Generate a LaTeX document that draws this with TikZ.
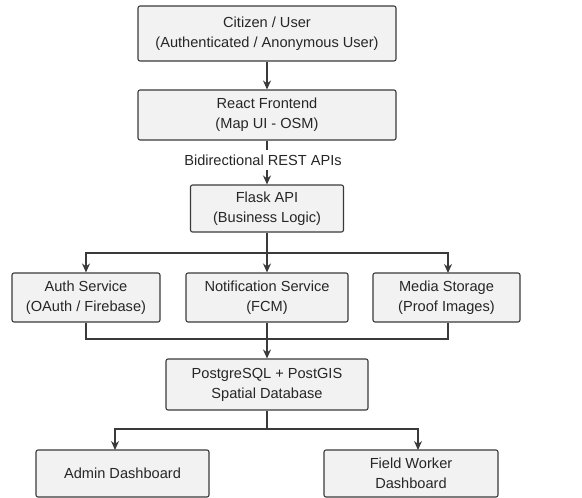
\documentclass[tikz,border=0pt]{standalone}
\usepackage{fontspec}
\setmainfont{Liberation Sans}
\usetikzlibrary{arrows.meta}

\definecolor{boxfill}{HTML}{F2F2F2}
\definecolor{boxline}{HTML}{3A3A3A}

\tikzset{
  blockbox/.style={draw=boxline, fill=boxfill, rounded corners=2pt, line width=1.1pt,
    align=center, inner sep=0pt, font=\fontsize{14.6}{20}\selectfont, text=black!85},
  flow/.style={draw=boxline, line width=1.3pt},
}

\begin{document}
\begin{tikzpicture}[x=1pt, y=-1pt, >={Stealth[length=9pt,width=8pt]}]
\useasboundingbox (0,0) rectangle (582,498);

\node[blockbox, minimum width=258pt, minimum height=55pt] (user) at (267,33.5) {Citizen / User\\(Authenticated / Anonymous User)};
\node[blockbox, minimum width=258pt, minimum height=50pt] (react) at (267,115) {React Frontend\\(Map UI - OSM)};
\node[blockbox, minimum width=153pt, minimum height=47pt] (flask) at (267,208.5) {Flask API\\(Business Logic)};

\node[blockbox, minimum width=148pt, minimum height=49pt] (auth) at (86,297.5) {Auth Service\\(OAuth / Firebase)};
\node[blockbox, minimum width=162pt, minimum height=49pt] (notif) at (267,297.5) {Notification Service\\(FCM)};
\node[blockbox, minimum width=147pt, minimum height=49pt] (media) at (446.5,297.5) {Media Storage\\(Proof Images)};

\node[blockbox, minimum width=202pt, minimum height=51pt] (db) at (267,384.5) {PostgreSQL + PostGIS\\Spatial Database};

\node[blockbox, minimum width=173pt, minimum height=47pt] (admin) at (122.5,473.5) {Admin Dashboard};
\node[blockbox, minimum width=174pt, minimum height=47pt] (field) at (411,473.5) {Field Worker\\Dashboard};

\node[font=\fontsize{14.6}{20}\selectfont, text=black!85] (rest) at (263,160) {Bidirectional REST APIs};

\coordinate (split) at (267,253);
\coordinate (merge) at (267,339);
\coordinate (fork) at (267,429);

\draw[flow, ->] (user) -- (react);
\draw[flow] (react) -- (267,150);
\draw[flow, ->] (267,170) -- (flask);

\draw[flow] (flask) -- (split);
\draw[flow, ->] (split) -| (auth);
\draw[flow, ->] (split) -- (notif);
\draw[flow, ->] (split) -| (448,273);

\draw[flow] (auth) |- (merge);
\draw[flow] (media.south -| 448,0) |- (merge);
\draw[flow, ->] (notif) -- (db);

\draw[flow] (db) -- (fork);
\draw[flow, ->] (fork) -| (115,450);
\draw[flow, ->] (fork) -| (418,450);
\end{tikzpicture}
\end{document}
